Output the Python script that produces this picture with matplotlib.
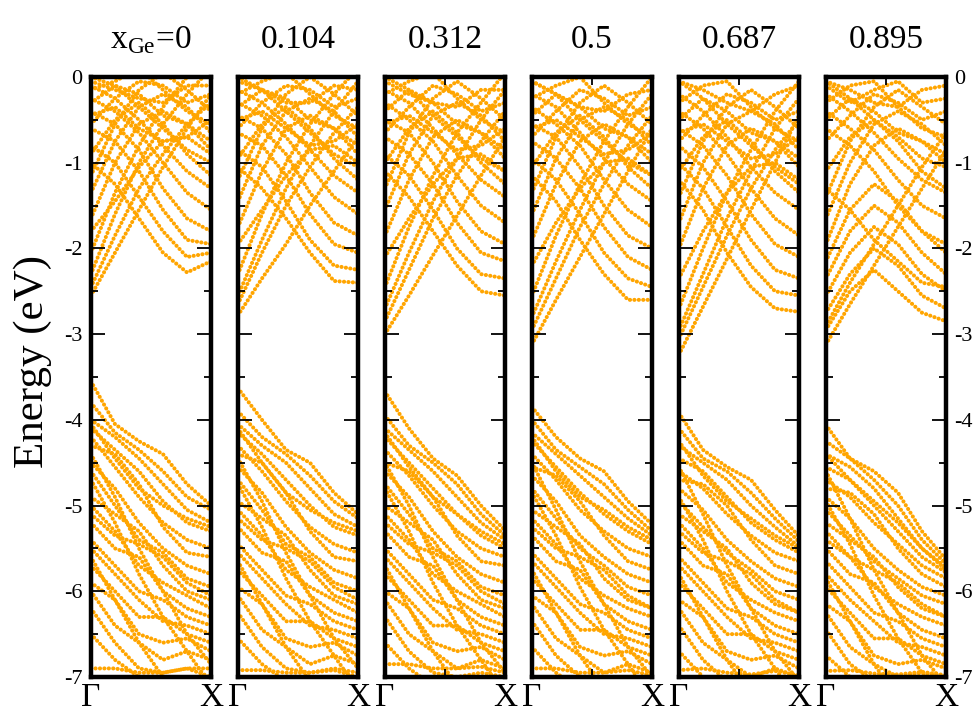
import matplotlib
matplotlib.use("Agg")
import matplotlib.pyplot as plt
from matplotlib.ticker import MultipleLocator

plt.rcParams['font.family'] = ['Liberation Serif', 'DejaVu Serif']
plt.rcParams['mathtext.fontset'] = 'custom'
plt.rcParams['mathtext.rm'] = 'Liberation Serif'
plt.rcParams['axes.unicode_minus'] = False

# k points along Gamma -> X (fraction of the path)
k_path = [0.0, 0.2, 0.4, 0.6, 0.8, 1.0]

panel_titles = [r'x$_{\mathrm{Ge}}$=0', '0.104', '0.312', '0.5', '0.687', '0.895']
y_ticks = [0, -1, -2, -3, -4, -5, -6, -7]
y_ticklabels = ['0', '-1', '-2', '-3', '-4', '-5', '-6', '-7']
k_labels = ['Γ', 'X']

# conduction / valence bands, energies (eV) at k_path
cb_000 = [
    [-2.55, -2.05, -1.55, -1.05, -0.6, -0.2],
    [-2.3, -1.6, -1.0, -0.55, -0.2, 0.1],
    [-2.05, -1.35, -0.8, -0.35, 0.0, 0.2],
    [-1.0, -1.25, -1.65, -2.05, -2.28, -2.15],
    [-0.8, -1.0, -1.4, -1.8, -2.1, -2.05],
    [-0.6, -0.75, -1.1, -1.55, -1.9, -1.95],
    [-0.4, -0.55, -0.85, -1.3, -1.65, -1.8],
    [-0.25, -0.4, -0.65, -1.0, -1.35, -1.55],
    [-0.1, -0.25, -0.5, -0.8, -1.1, -1.3],
    [0.0, -0.1, -0.35, -0.6, -0.85, -1.0],
    [-1.65, -1.0, -0.55, -0.4, -0.55, -0.85],
    [-1.35, -0.75, -0.35, -0.2, -0.35, -0.65],
    [-1.15, -0.55, -0.15, 0.05, -0.15, -0.4],
    [-0.55, -0.25, -0.05, -0.1, -0.3, -0.2],
    [-0.3, -0.1, -0.2, -0.45, -0.55, -0.75],
    [-1.8, -1.45, -1.05, -0.75, -0.7, -0.9],
    [-0.15, -0.05, 0.1, -0.15, -0.4, -0.55],
    [-0.9, -0.5, -0.3, -0.55, -0.9, -1.15],
    [-0.05, -0.15, -0.25, -0.3, -0.1, -0.1],
    [-0.45, -0.35, -0.6, -0.75, -0.7, -0.5],
    [-2.45, -1.85, -1.3, -0.9, -0.55, -0.3],
]
vb_000 = [
    [-3.55, -4.05, -4.25, -4.4, -4.75, -5.0],
    [-3.8, -4.15, -4.35, -4.6, -4.9, -5.05],
    [-4.0, -4.2, -4.45, -4.75, -5.05, -5.2],
    [-4.1, -4.35, -4.6, -4.95, -5.2, -5.3],
    [-4.2, -4.55, -4.9, -5.2, -5.4, -5.5],
    [-4.3, -4.4, -4.75, -5.25, -5.55, -5.6],
    [-4.5, -4.8, -5.2, -5.5, -5.7, -5.8],
    [-4.6, -5.0, -5.4, -5.55, -5.85, -5.95],
    [-4.9, -5.1, -5.3, -5.7, -6.0, -6.1],
    [-5.0, -5.3, -5.7, -5.9, -6.05, -6.2],
    [-5.2, -5.5, -5.6, -6.0, -6.2, -6.3],
    [-5.4, -5.7, -6.0, -6.1, -6.3, -6.4],
    [-5.5, -5.8, -6.1, -6.35, -6.4, -6.5],
    [-5.7, -6.0, -6.3, -6.3, -6.5, -6.6],
    [-5.9, -6.1, -6.5, -6.6, -6.55, -6.7],
    [-6.0, -6.4, -6.6, -6.8, -6.7, -6.8],
    [-6.2, -6.6, -6.9, -6.95, -6.9, -6.9],
    [-6.5, -6.8, -7.0, -7.1, -7.0, -7.0],
    [-6.9, -6.9, -6.95, -6.95, -6.9, -7.0],
    [-4.7, -5.2, -5.8, -6.3, -6.7, -7.1],
    [-4.4, -4.9, -5.5, -6.0, -6.5, -6.85],
    [-5.6, -6.1, -6.6, -7.0, -7.2, -7.2],
    [-4.05, -4.45, -4.8, -5.0, -5.15, -5.25],
    [-5.1, -5.35, -5.45, -5.6, -5.9, -6.05],
]

cb_104 = [
    [-2.78, -2.35, -1.95, -1.5, -1.1, -0.7],
    [-2.55, -1.9, -1.3, -0.8, -0.4, -0.05],
    [-2.3, -1.6, -1.0, -0.55, -0.2, 0.1],
    [-1.05, -1.3, -1.65, -2.05, -2.38, -2.4],
    [-0.85, -1.05, -1.45, -1.9, -2.2, -2.25],
    [-0.65, -0.8, -1.15, -1.6, -1.95, -2.05],
    [-0.45, -0.6, -0.9, -1.35, -1.7, -1.85],
    [-0.3, -0.45, -0.7, -1.05, -1.4, -1.6],
    [-0.15, -0.3, -0.55, -0.85, -1.15, -1.35],
    [0.0, -0.15, -0.4, -0.65, -0.9, -1.05],
    [-1.75, -1.1, -0.6, -0.45, -0.6, -0.9],
    [-1.45, -0.8, -0.4, -0.25, -0.4, -0.7],
    [-1.2, -0.6, -0.2, 0.0, -0.2, -0.45],
    [-0.6, -0.3, -0.1, -0.15, -0.35, -0.25],
    [-0.35, -0.15, -0.25, -0.5, -0.6, -0.8],
    [-1.95, -1.55, -1.15, -0.85, -0.8, -1.0],
    [-0.2, -0.05, 0.05, -0.2, -0.45, -0.6],
    [-0.95, -0.55, -0.35, -0.6, -0.95, -1.2],
    [-0.05, -0.15, -0.3, -0.3, -0.1, -0.15],
    [-0.5, -0.4, -0.6, -0.8, -0.75, -0.55],
    [-2.65, -2.05, -1.5, -1.05, -0.65, -0.35],
]
vb_104 = [
    [-3.63, -4.0, -4.35, -4.5, -4.85, -5.1],
    [-3.9, -4.2, -4.4, -4.65, -4.95, -5.15],
    [-4.05, -4.3, -4.5, -4.8, -5.1, -5.25],
    [-4.15, -4.4, -4.7, -5.0, -5.25, -5.35],
    [-4.3, -4.6, -4.95, -5.25, -5.45, -5.55],
    [-4.4, -4.5, -4.85, -5.3, -5.6, -5.65],
    [-4.55, -4.85, -5.25, -5.55, -5.75, -5.85],
    [-4.7, -5.05, -5.45, -5.6, -5.9, -6.0],
    [-4.95, -5.15, -5.35, -5.75, -6.05, -6.15],
    [-5.05, -5.35, -5.75, -5.95, -6.1, -6.25],
    [-5.25, -5.55, -5.65, -6.05, -6.25, -6.35],
    [-5.45, -5.75, -6.05, -6.15, -6.35, -6.45],
    [-5.55, -5.85, -6.15, -6.4, -6.45, -6.55],
    [-5.75, -6.05, -6.35, -6.35, -6.55, -6.65],
    [-5.95, -6.15, -6.55, -6.65, -6.6, -6.75],
    [-6.05, -6.45, -6.65, -6.85, -6.75, -6.85],
    [-6.25, -6.65, -6.9, -6.95, -6.9, -6.95],
    [-6.55, -6.85, -7.05, -7.1, -7.0, -7.05],
    [-6.92, -6.92, -6.95, -6.95, -6.92, -7.0],
    [-4.75, -5.25, -5.85, -6.35, -6.75, -7.15],
    [-4.45, -4.95, -5.55, -6.05, -6.55, -6.9],
    [-5.65, -6.15, -6.65, -7.05, -7.25, -7.25],
    [-4.1, -4.5, -4.85, -5.05, -5.2, -5.3],
    [-5.15, -5.4, -5.5, -5.65, -5.95, -6.1],
]

cb_312 = [
    [-3.0, -2.55, -2.08, -1.62, -1.15, -0.7],
    [-2.7, -2.05, -1.45, -0.95, -0.5, -0.15],
    [-2.45, -1.75, -1.15, -0.65, -0.3, 0.05],
    [-1.1, -1.4, -1.8, -2.2, -2.5, -2.55],
    [-0.9, -1.15, -1.55, -2.0, -2.3, -2.35],
    [-0.7, -0.9, -1.25, -1.7, -2.05, -2.15],
    [-0.5, -0.65, -1.0, -1.45, -1.8, -1.95],
    [-0.3, -0.5, -0.75, -1.15, -1.5, -1.7],
    [-0.15, -0.3, -0.6, -0.9, -1.2, -1.4],
    [0.0, -0.15, -0.45, -0.7, -0.95, -1.1],
    [-1.85, -1.2, -0.7, -0.5, -0.65, -0.95],
    [-1.55, -0.9, -0.45, -0.3, -0.45, -0.75],
    [-1.3, -0.65, -0.25, -0.05, -0.25, -0.5],
    [-0.65, -0.35, -0.1, -0.2, -0.4, -0.3],
    [-0.4, -0.15, -0.3, -0.55, -0.65, -0.85],
    [-2.1, -1.65, -1.25, -0.95, -0.9, -1.1],
    [-0.2, -0.05, 0.05, -0.25, -0.5, -0.65],
    [-1.0, -0.6, -0.4, -0.65, -1.0, -1.25],
    [-0.05, -0.2, -0.3, -0.35, -0.15, -0.15],
    [-0.55, -0.45, -0.65, -0.85, -0.8, -0.6],
    [-2.85, -2.25, -1.65, -1.15, -0.75, -0.4],
]
vb_312 = [
    [-3.67, -4.1, -4.45, -4.65, -5.0, -5.29],
    [-3.95, -4.3, -4.5, -4.75, -5.1, -5.35],
    [-4.1, -4.35, -4.6, -4.9, -5.2, -5.4],
    [-4.2, -4.5, -4.8, -5.1, -5.35, -5.5],
    [-4.35, -4.65, -5.0, -5.3, -5.5, -5.6],
    [-4.5, -4.6, -4.9, -5.35, -5.65, -5.7],
    [-4.6, -4.9, -5.3, -5.6, -5.8, -5.9],
    [-4.75, -5.1, -5.5, -5.65, -5.95, -6.05],
    [-5.0, -5.2, -5.4, -5.8, -6.1, -6.2],
    [-5.1, -5.4, -5.8, -6.0, -6.15, -6.3],
    [-5.3, -5.6, -5.7, -6.1, -6.3, -6.4],
    [-5.5, -5.8, -6.1, -6.2, -6.4, -6.5],
    [-5.6, -5.9, -6.2, -6.45, -6.5, -6.6],
    [-5.8, -6.1, -6.4, -6.4, -6.6, -6.7],
    [-6.0, -6.2, -6.6, -6.7, -6.65, -6.8],
    [-6.1, -6.5, -6.7, -6.9, -6.8, -6.9],
    [-6.3, -6.7, -6.95, -7.0, -6.95, -7.0],
    [-6.6, -6.9, -7.1, -7.15, -7.05, -7.1],
    [-6.85, -6.85, -6.9, -6.9, -6.88, -6.95],
    [-4.8, -5.3, -5.9, -6.4, -6.8, -7.2],
    [-4.5, -5.0, -5.6, -6.1, -6.6, -6.95],
    [-5.7, -6.2, -6.7, -7.1, -7.3, -7.3],
    [-4.15, -4.55, -4.9, -5.1, -5.3, -5.45],
    [-5.2, -5.45, -5.55, -5.7, -6.0, -6.15],
]

cb_500 = [
    [-3.12, -2.6, -2.1, -1.6, -1.1, -0.6],
    [-2.8, -2.15, -1.55, -1.0, -0.55, -0.2],
    [-2.55, -1.85, -1.25, -0.75, -0.35, 0.0],
    [-1.15, -1.45, -1.9, -2.3, -2.6, -2.6],
    [-0.95, -1.2, -1.6, -2.05, -2.35, -2.45],
    [-0.75, -0.95, -1.3, -1.75, -2.1, -2.25],
    [-0.55, -0.7, -1.05, -1.5, -1.85, -2.0],
    [-0.35, -0.55, -0.8, -1.2, -1.55, -1.75],
    [-0.2, -0.35, -0.65, -0.95, -1.25, -1.45],
    [-0.05, -0.2, -0.5, -0.75, -1.0, -1.15],
    [-1.9, -1.25, -0.75, -0.55, -0.7, -1.0],
    [-1.6, -0.95, -0.5, -0.35, -0.5, -0.8],
    [-1.35, -0.7, -0.3, -0.1, -0.3, -0.55],
    [-0.7, -0.4, -0.15, -0.25, -0.45, -0.35],
    [-0.45, -0.2, -0.35, -0.6, -0.7, -0.9],
    [-2.2, -1.7, -1.3, -1.0, -0.95, -1.15],
    [-0.25, -0.1, 0.0, -0.3, -0.55, -0.7],
    [-1.05, -0.65, -0.45, -0.7, -1.05, -1.3],
    [-0.05, -0.2, -0.35, -0.4, -0.2, -0.15],
    [-0.6, -0.5, -0.7, -0.9, -0.85, -0.65],
    [-2.95, -2.35, -1.75, -1.25, -0.8, -0.45],
]
vb_500 = [
    [-3.85, -4.2, -4.45, -4.6, -4.95, -5.22],
    [-4.0, -4.35, -4.55, -4.75, -5.05, -5.3],
    [-4.15, -4.4, -4.65, -4.9, -5.15, -5.35],
    [-4.25, -4.55, -4.85, -5.1, -5.3, -5.45],
    [-4.4, -4.7, -5.05, -5.3, -5.5, -5.6],
    [-4.55, -4.65, -4.95, -5.35, -5.65, -5.75],
    [-4.65, -4.95, -5.35, -5.6, -5.8, -5.9],
    [-4.8, -5.15, -5.5, -5.7, -5.95, -6.05],
    [-5.05, -5.25, -5.45, -5.85, -6.1, -6.2],
    [-5.15, -5.45, -5.85, -6.05, -6.2, -6.3],
    [-5.35, -5.65, -5.75, -6.15, -6.35, -6.45],
    [-5.55, -5.85, -6.15, -6.25, -6.45, -6.55],
    [-5.65, -5.95, -6.25, -6.5, -6.55, -6.65],
    [-5.85, -6.15, -6.45, -6.45, -6.65, -6.75],
    [-6.05, -6.25, -6.65, -6.75, -6.7, -6.85],
    [-6.15, -6.55, -6.75, -6.95, -6.85, -6.95],
    [-6.35, -6.75, -7.0, -7.05, -7.0, -7.05],
    [-6.65, -6.95, -7.15, -7.2, -7.1, -7.15],
    [-6.9, -6.9, -6.95, -6.95, -6.92, -6.98],
    [-4.85, -5.35, -5.95, -6.45, -6.85, -7.25],
    [-4.5, -5.05, -5.65, -6.15, -6.65, -7.0],
    [-5.75, -6.25, -6.75, -7.15, -7.35, -7.35],
    [-4.2, -4.6, -4.9, -5.05, -5.25, -5.4],
    [-5.25, -5.5, -5.6, -5.75, -6.05, -6.2],
]

cb_687 = [
    [-3.24, -2.68, -2.12, -1.55, -1.0, -0.45],
    [-2.95, -2.3, -1.65, -1.1, -0.6, -0.25],
    [-2.7, -2.0, -1.35, -0.85, -0.4, -0.05],
    [-1.2, -1.55, -2.05, -2.45, -2.7, -2.74],
    [-1.0, -1.3, -1.75, -2.2, -2.5, -2.55],
    [-0.8, -1.05, -1.45, -1.9, -2.25, -2.35],
    [-0.6, -0.8, -1.15, -1.6, -1.95, -2.1],
    [-0.4, -0.6, -0.9, -1.3, -1.65, -1.85],
    [-0.2, -0.4, -0.7, -1.05, -1.35, -1.55],
    [-0.05, -0.25, -0.55, -0.8, -1.05, -1.25],
    [-2.0, -1.3, -0.8, -0.6, -0.75, -1.05],
    [-1.7, -1.0, -0.55, -0.4, -0.55, -0.85],
    [-1.4, -0.75, -0.35, -0.15, -0.35, -0.6],
    [-0.75, -0.45, -0.2, -0.3, -0.5, -0.4],
    [-0.5, -0.25, -0.4, -0.65, -0.75, -0.95],
    [-2.35, -1.8, -1.35, -1.05, -1.0, -1.2],
    [-0.3, -0.1, -0.05, -0.35, -0.6, -0.75],
    [-1.1, -0.7, -0.5, -0.75, -1.1, -1.35],
    [-0.05, -0.15, -0.3, -0.4, -0.2, -0.1],
    [-0.65, -0.55, -0.75, -0.95, -0.9, -0.7],
    [-3.05, -2.45, -1.85, -1.3, -0.85, -0.5],
]
vb_687 = [
    [-3.92, -4.35, -4.55, -4.7, -5.05, -5.36],
    [-4.1, -4.45, -4.6, -4.85, -5.15, -5.42],
    [-4.3, -4.5, -4.7, -5.0, -5.25, -5.48],
    [-4.45, -4.6, -4.9, -5.2, -5.4, -5.55],
    [-4.6, -4.8, -5.1, -5.35, -5.55, -5.65],
    [-4.7, -4.75, -5.0, -5.4, -5.7, -5.8],
    [-4.8, -5.05, -5.4, -5.65, -5.85, -5.95],
    [-4.95, -5.25, -5.55, -5.75, -6.0, -6.1],
    [-5.1, -5.3, -5.5, -5.9, -6.15, -6.25],
    [-5.2, -5.5, -5.9, -6.1, -6.25, -6.35],
    [-5.4, -5.7, -5.8, -6.2, -6.4, -6.5],
    [-5.6, -5.9, -6.2, -6.3, -6.5, -6.6],
    [-5.7, -6.0, -6.3, -6.55, -6.6, -6.7],
    [-5.9, -6.2, -6.5, -6.5, -6.7, -6.8],
    [-6.1, -6.3, -6.7, -6.8, -6.75, -6.9],
    [-6.2, -6.6, -6.8, -7.0, -6.9, -7.0],
    [-6.4, -6.8, -7.05, -7.1, -7.05, -7.1],
    [-6.7, -7.0, -7.2, -7.25, -7.15, -7.2],
    [-6.92, -6.9, -6.95, -6.97, -6.93, -6.98],
    [-4.9, -5.4, -6.0, -6.5, -6.9, -7.3],
    [-4.55, -5.1, -5.7, -6.2, -6.7, -7.05],
    [-5.8, -6.3, -6.8, -7.2, -7.4, -7.4],
    [-4.25, -4.65, -4.95, -5.15, -5.35, -5.5],
    [-5.3, -5.55, -5.65, -5.8, -6.1, -6.25],
]

cb_895 = [
    [-3.12, -2.65, -2.2, -1.75, -1.3, -0.85],
    [-2.95, -2.5, -2.25, -2.5, -2.75, -2.85],
    [-2.75, -2.3, -2.0, -2.2, -2.55, -2.7],
    [-2.55, -2.05, -1.75, -1.95, -2.3, -2.5],
    [-2.35, -1.8, -1.5, -1.7, -2.05, -2.3],
    [-2.15, -1.55, -1.25, -1.45, -1.8, -2.05],
    [-1.3, -1.55, -1.9, -2.15, -2.4, -2.45],
    [-0.6, -0.8, -1.1, -1.5, -1.8, -1.95],
    [-0.4, -0.6, -0.85, -1.2, -1.5, -1.65],
    [-0.2, -0.4, -0.65, -0.95, -1.2, -1.35],
    [-0.05, -0.25, -0.5, -0.7, -0.95, -1.05],
    [-1.95, -1.25, -0.8, -0.6, -0.75, -1.0],
    [-1.65, -1.0, -0.55, -0.4, -0.55, -0.8],
    [-1.4, -0.75, -0.35, -0.15, -0.35, -0.55],
    [-0.75, -0.45, -0.2, -0.3, -0.5, -0.4],
    [-0.5, -0.25, -0.4, -0.65, -0.75, -0.9],
    [-0.3, -0.1, -0.05, -0.35, -0.6, -0.7],
    [-1.1, -0.7, -0.5, -0.75, -1.1, -1.3],
    [-0.05, -0.15, -0.3, -0.35, -0.15, -0.1],
    [-0.1, -0.3, -0.15, -0.05, -0.3, -0.25],
    [-2.9, -2.4, -1.95, -1.5, -1.05, -0.65],
]
vb_895 = [
    [-4.06, -4.45, -4.6, -4.85, -5.3, -5.63],
    [-4.25, -4.45, -4.7, -5.0, -5.4, -5.68],
    [-4.4, -4.55, -4.8, -5.15, -5.5, -5.72],
    [-4.55, -4.7, -5.0, -5.3, -5.6, -5.78],
    [-4.7, -4.9, -5.2, -5.45, -5.7, -5.85],
    [-4.8, -4.85, -5.1, -5.5, -5.8, -5.95],
    [-4.9, -5.15, -5.5, -5.75, -5.95, -6.05],
    [-5.05, -5.35, -5.65, -5.85, -6.05, -6.15],
    [-5.2, -5.4, -5.6, -5.95, -6.2, -6.3],
    [-5.3, -5.6, -5.95, -6.15, -6.3, -6.4],
    [-5.5, -5.8, -5.9, -6.25, -6.45, -6.55],
    [-5.65, -5.95, -6.25, -6.35, -6.55, -6.65],
    [-5.8, -6.1, -6.35, -6.6, -6.65, -6.75],
    [-5.95, -6.25, -6.55, -6.55, -6.75, -6.85],
    [-6.15, -6.35, -6.75, -6.85, -6.8, -6.9],
    [-6.25, -6.65, -6.85, -7.0, -6.95, -7.0],
    [-6.45, -6.85, -7.05, -7.1, -7.05, -7.1],
    [-6.75, -7.0, -7.2, -7.25, -7.2, -7.2],
    [-6.93, -6.92, -6.96, -6.97, -6.94, -6.98],
    [-4.95, -5.45, -6.05, -6.55, -6.95, -7.3],
    [-4.6, -5.15, -5.75, -6.25, -6.75, -7.1],
    [-5.85, -6.35, -6.85, -7.25, -7.45, -7.45],
    [-4.4, -4.7, -4.95, -5.2, -5.5, -5.75],
    [-5.4, -5.6, -5.75, -5.9, -6.15, -6.3],
]

panels = [
    (cb_000, vb_000), (cb_104, vb_104), (cb_312, vb_312),
    (cb_500, vb_500), (cb_687, vb_687), (cb_895, vb_895),
]

W, H = 974, 712
fig = plt.figure(figsize=(W / 100, H / 100), dpi=100)

left_px = [91, 238, 385, 532, 679, 826]
width_px = 120
top_px, bottom_px = 77, 677
band_color = '#FFA500'

for i, (cb, vb) in enumerate(panels):
    ax = fig.add_axes([left_px[i] / W, 1 - bottom_px / H,
                       width_px / W, (bottom_px - top_px) / H])
    for band in cb + vb:
        ax.plot(k_path, band, color=band_color, lw=2.9,
                linestyle=(0, (0.05, 1.05)), dash_capstyle='round',
                zorder=1)
    ax.set_xlim(0, 1)
    ax.set_ylim(-7, 0)

    for s in ax.spines.values():
        s.set_linewidth(3.2)
        s.set_zorder(5)

    ax.set_yticks(y_ticks)
    ax.set_yticklabels(y_ticklabels)
    ax.yaxis.set_minor_locator(MultipleLocator(0.5))
    ax.tick_params(axis='y', which='major', direction='in', length=10,
                   width=1.3, left=True, right=True,
                   labelleft=(i == 0), labelright=(i == 5),
                   labelsize=16, pad=6)
    ax.tick_params(axis='y', which='minor', direction='in', length=5,
                   width=1.3, left=True, right=True)

    ax.set_xticks([0, 1])
    ax.set_xticklabels(k_labels)
    ax.tick_params(axis='x', which='major', length=0, labelsize=24, pad=4)
    if i >= 2:
        ax.set_xticks([0.5], minor=True)
        ax.tick_params(axis='x', which='minor', direction='in', length=6,
                       width=1.3, top=True, bottom=True)

    fig.text((left_px[i] + width_px / 2) / W, 1 - 40 / H, panel_titles[i],
             ha='center', va='center', fontsize=24)

fig.text(33 / W, 1 - 362 / H, 'Energy (eV)', rotation=90,
         ha='center', va='center', fontsize=31)

fig.savefig('out.png', dpi=100)
